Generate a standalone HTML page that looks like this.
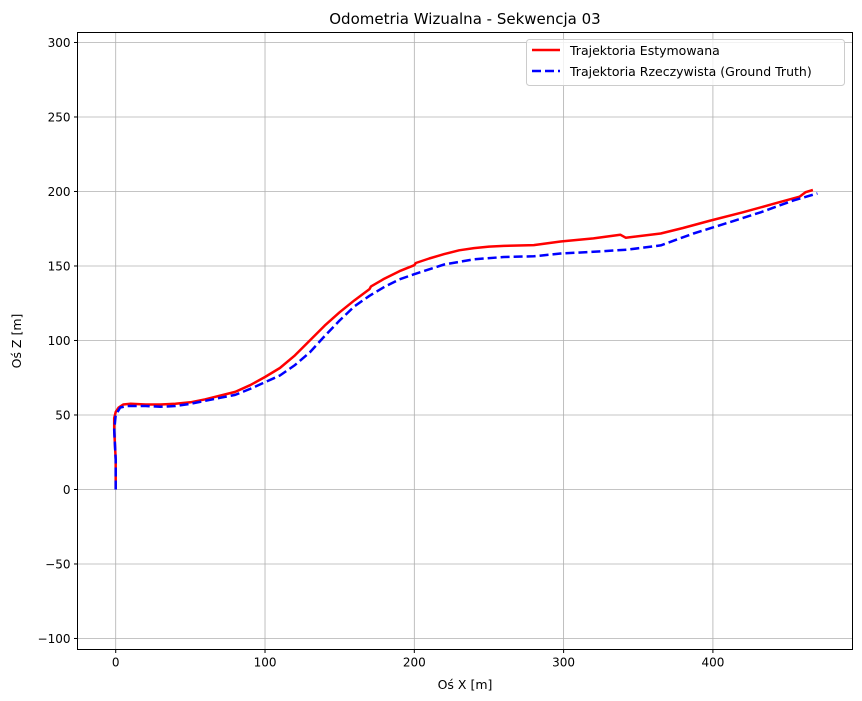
<!DOCTYPE html>
<html><head><meta charset="utf-8">
<style>
html,body{margin:0;padding:0;background:#fff;}
svg{display:block;font-family:"DejaVu Sans","Liberation Sans",sans-serif;}
</style></head>
<body>
<svg id="chart" width="862" height="701" viewBox="0 0 862 701">
<rect width="862" height="701" fill="#fff"/>
<g id="grid"></g>
<g id="series"></g>
<rect x="77.5" y="32.5" width="775" height="617" fill="none" stroke="#000" stroke-width="1"/>
<g id="ticks"></g>
<text x="465" y="24" font-size="15" text-anchor="middle">Odometria Wizualna - Sekwencja 03</text>
<text x="465" y="689" font-size="12.5" text-anchor="middle">Oś X [m]</text>
<text transform="translate(21,341) rotate(-90)" font-size="12.5" text-anchor="middle">Oś Z [m]</text>
<g>
<rect x="526.5" y="39.5" width="318" height="46" rx="3" fill="#fff" fill-opacity="0.8" stroke="#ccc"/>
<g>
<line x1="532" y1="50" x2="560" y2="50" stroke="red" stroke-width="2.5"/>
<text x="570" y="55" font-size="12.5">Trajektoria Estymowana</text>
</g>
<g>
<line x1="532" y1="71" x2="560" y2="71" stroke="blue" stroke-width="2.5" stroke-dasharray="9,4"/>
<text x="570" y="76" font-size="12.5">Trajektoria Rzeczywista (Ground Truth)</text>
</g>
</g>
</svg>
<script>
const xTicks = [0, 100, 200, 300, 400];
const yTicks = [-100, -50, 0, 50, 100, 150, 200, 250, 300];
const estX = [0,0,-1,-1,0,2,5,10,20,30,40,50,60,70,80,90,100,110,120,130,140,150,160,170,171,180,190,200,201,210,220,230,240,250,260,280,298,320,338,341.6,365,380,398.5,420,440,458,462,467];
const estZ = [0,20,40,48,52,55,57,57.5,57,57,57.5,58.5,60.5,63,65.5,70,75.5,81.5,90,100,110,119,127,134.5,136.3,141.5,146.5,150.5,152,155,158,160.5,162,163,163.5,164,166.4,168.5,171,169,171.8,175.5,180.5,186,191.5,196.5,199.5,201];
const gtX = [0,0,-1,0,3,8,20,30,40,50,60,70,80,90,100,110,120,130,140,150,160,170,180,190,200,220,240,260,280,298,320,343,365,387,410,432,454,470];
const gtZ = [0,20,40,50,55,56,56,55.5,56,57.5,59.5,61.5,63.5,67.5,72,76.5,83.5,92,103,113.5,123,130,136,141,144.5,151,154.5,156,156.5,158.4,159.5,161,163.8,171.8,179,186,194,198.7];

const X0 = 77.5, X1 = 852.5, Y0 = 32.5, Y1 = 649.5;
const xMin = -25.6, xMax = 493.5, yMin = -107.4, yMax = 306.7;
const sx = v => X0 + (v - xMin) / (xMax - xMin) * (X1 - X0);
const sy = v => Y1 - (v - yMin) / (yMax - yMin) * (Y1 - Y0);
const NS = 'http://www.w3.org/2000/svg';
const grid = document.getElementById('grid');
const ticks = document.getElementById('ticks');
function mk(tag, attrs, parent) {
  const el = document.createElementNS(NS, tag);
  for (const k in attrs) el.setAttribute(k, attrs[k]);
  parent.appendChild(el);
  return el;
}
xTicks.forEach(v => {
  const x = sx(v);
  const g = mk('line', {x1: x, x2: x, y1: Y0, y2: Y1, stroke: '#b0b0b0', 'stroke-width': 0.8}, grid);
  
  
  mk('line', {x1: x, x2: x, y1: Y1, y2: Y1 + 3.5, stroke: '#000'}, ticks);
  const t = mk('text', {x: x, y: Y1 + 17, 'font-size': 12, 'text-anchor': 'middle'}, ticks);
  t.textContent = String(v);
  
  
});
yTicks.forEach(v => {
  const y = sy(v);
  const g = mk('line', {x1: X0, x2: X1, y1: y, y2: y, stroke: '#b0b0b0', 'stroke-width': 0.8}, grid);
  
  
  mk('line', {x1: X0 - 3.5, x2: X0, y1: y, y2: y, stroke: '#000'}, ticks);
  const t = mk('text', {x: X0 - 7, y: y + 4.5, 'font-size': 12, 'text-anchor': 'end'}, ticks);
  t.textContent = v < 0 ? '\u2212' + Math.abs(v) : String(v);
  
  
});
const series = document.getElementById('series');
function pathD(xs, zs) { return xs.map((x, i) => (i ? 'L' : 'M') + sx(x).toFixed(1) + ',' + sy(zs[i]).toFixed(1)).join(''); }
const est = mk('path', {d: pathD(estX, estZ), fill: 'none', stroke: 'red', 'stroke-width': 2.5, 'stroke-linejoin': 'round'}, series);


const gt = mk('path', {d: pathD(gtX, gtZ), fill: 'none', stroke: 'blue', 'stroke-width': 2.5, 'stroke-dasharray': '9,4', 'stroke-linejoin': 'round'}, series);


</script>
</body></html>
